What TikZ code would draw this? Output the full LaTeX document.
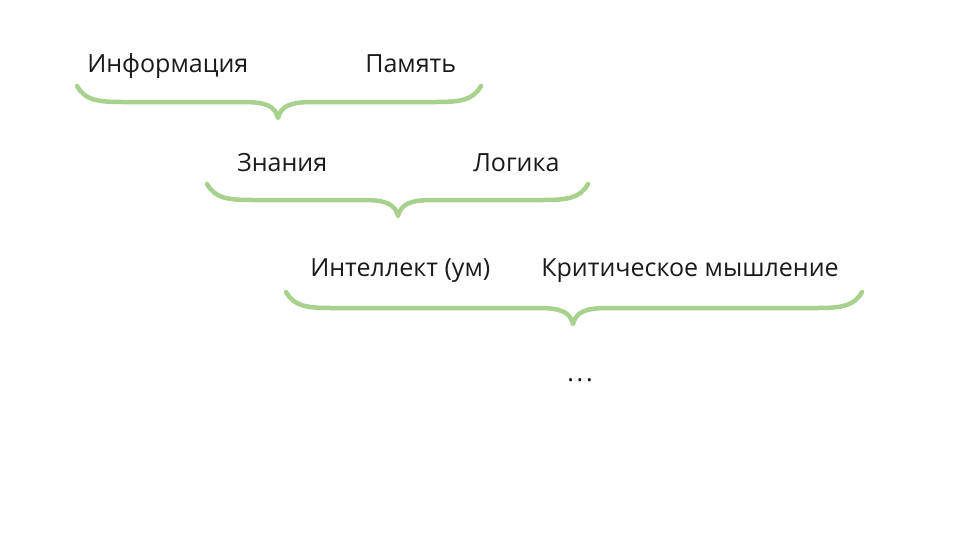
\documentclass[tikz,border=0pt]{standalone}
\usepackage{fontspec}
\setmainfont{Open Sans}
\usepackage{xcolor}
\definecolor{bgreen}{HTML}{A9D18E}
\definecolor{tdark}{HTML}{1A1A1A}
\usetikzlibrary{positioning}

\begin{document}
\begin{tikzpicture}[x=0.025cm, y=-0.025cm,
  word/.style={font=\fontsize{17.8}{20}\selectfont, text=tdark, inner sep=0pt, anchor=base west},
  bracepath/.style={draw=bgreen, line width=3.2pt, line cap=round, line join=round}]
\useasboundingbox (0,0) rectangle (960,540);
% ---------------- words ----------------
\node[word] (info)   at (87,72)  {Информация};
\node[word] (mem)    at (365,72) {Память};
\node[word] (know)   at (237,171) {Знания};
\node[word] (logic)  at (473,171) {Логика};
\node[word] (intel)  at (310,276) {Интеллект (ум)};
\node[word] (crit)   at (541,276) {Критическое мышление};
\node[word] (dots)   at (567,381) {.\kern2pt.\kern2pt.};
% ---------------- braces ----------------
\foreach \xa/\xm/\xb/\yt in {77/278/481/86, 207/398/588/184, 286/573/862/292}{
  \draw[bracepath] (\xa,\yt) .. controls (\xa+8,\yt+14) and (\xa+20,\yt+16) .. (\xa+45,\yt+16)
    -- (\xm-35,\yt+16) .. controls (\xm-12,\yt+16) and (\xm-3,\yt+20) .. (\xm,\yt+32)
    .. controls (\xm+3,\yt+20) and (\xm+12,\yt+16) .. (\xm+35,\yt+16)
    -- (\xb-45,\yt+16) .. controls (\xb-20,\yt+16) and (\xb-8,\yt+14) .. (\xb,\yt);}
\end{tikzpicture}
\end{document}
